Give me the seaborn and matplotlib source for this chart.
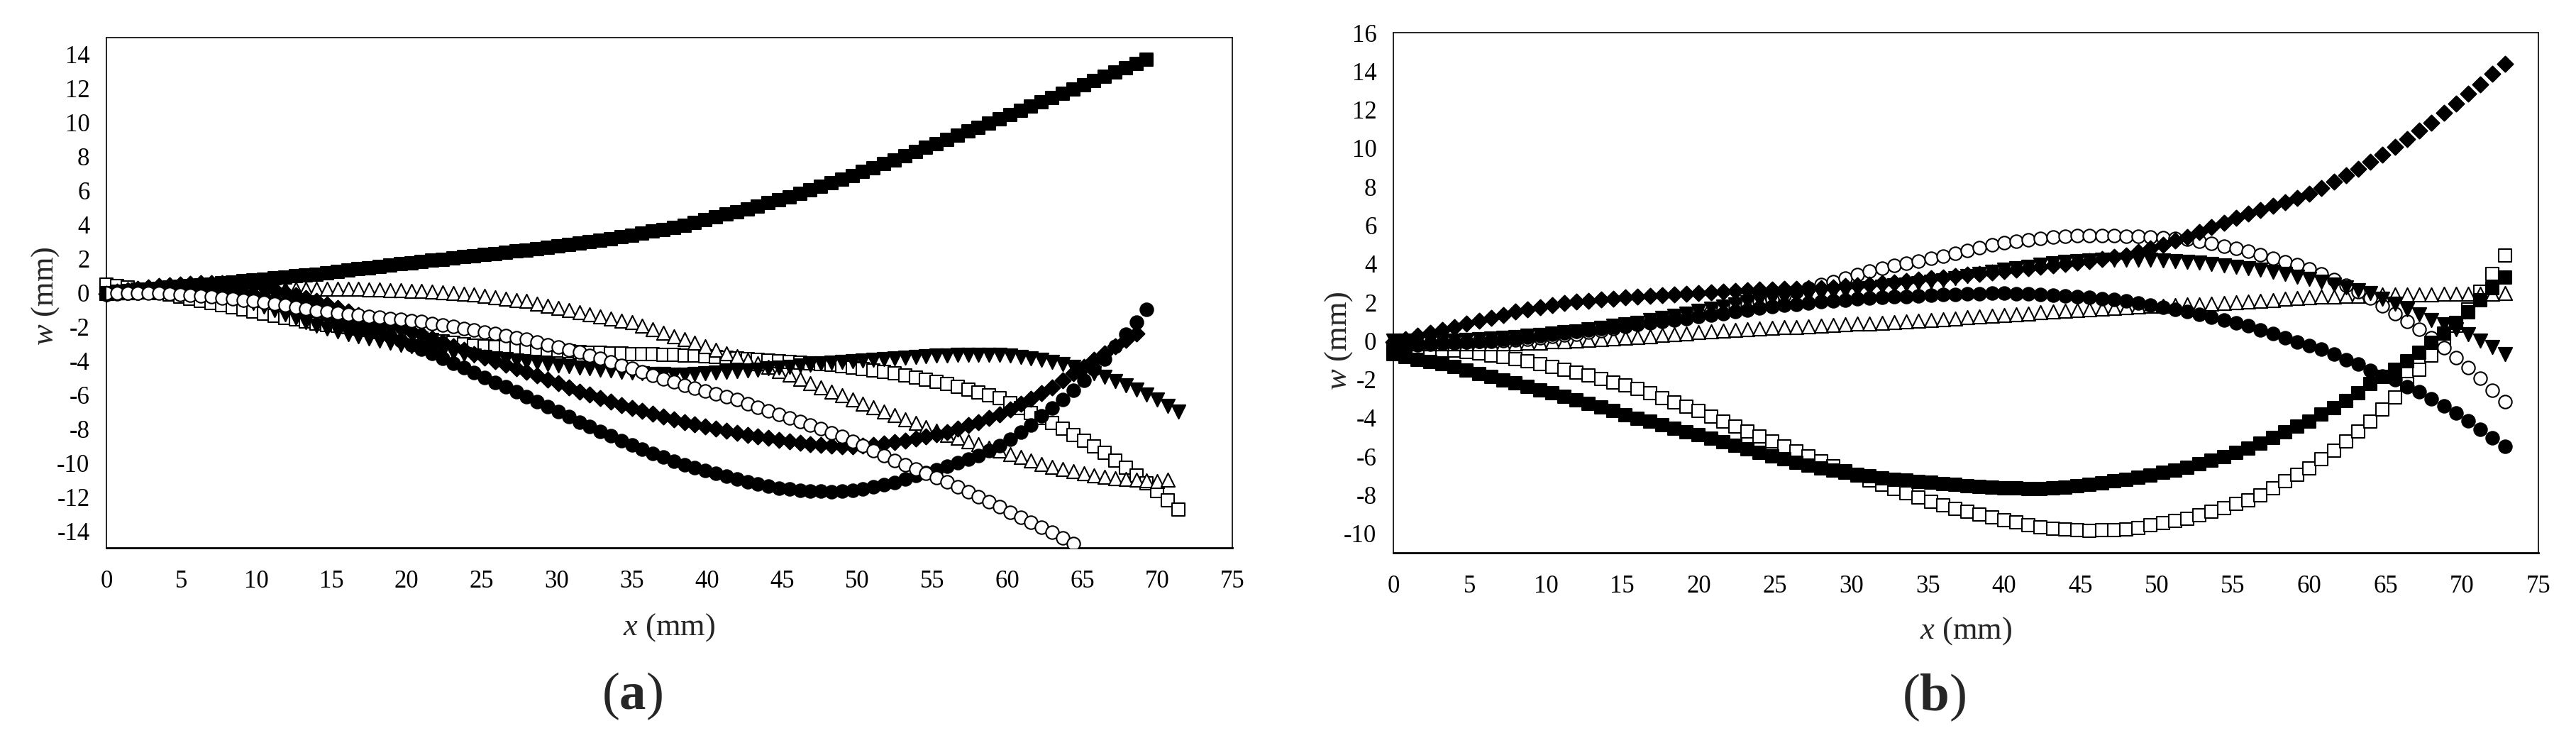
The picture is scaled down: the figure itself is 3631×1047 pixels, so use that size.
import numpy as np
import matplotlib
matplotlib.use("Agg")
import matplotlib.pyplot as plt
import seaborn as sns

# deflection w (mm) sampled along x, panel (a) step 0.7 mm, panel (b) step 0.8 mm
DX_A = 0.7
DX_B = 0.8

# ---------------- panel (a) ----------------
a_sq_fill = [0.0, 0.05, 0.1, 0.15, 0.2, 0.25, 0.3, 0.35, 0.4, 0.45, 0.5,
             0.56, 0.61, 0.67, 0.72, 0.78, 0.84, 0.9, 0.96, 1.02, 1.08,
             1.15, 1.23, 1.3, 1.38, 1.45, 1.53, 1.6, 1.68, 1.75, 1.83,
             1.89, 1.96, 2.02, 2.09, 2.15, 2.22, 2.29, 2.36, 2.43, 2.5,
             2.58, 2.66, 2.74, 2.82, 2.9, 2.99, 3.08, 3.17, 3.26, 3.35,
             3.47, 3.59, 3.71, 3.83, 3.95, 4.11, 4.27, 4.43, 4.59, 4.75,
             4.92, 5.09, 5.26, 5.43, 5.6, 5.81, 6.02, 6.23, 6.44, 6.65,
             6.88, 7.11, 7.34, 7.57, 7.8, 8.04, 8.28, 8.52, 8.76, 9.0,
             9.24, 9.48, 9.72, 9.96, 10.2, 10.45, 10.7, 10.95, 11.2, 11.45,
             11.7, 11.95, 12.2, 12.45, 12.7, 12.95, 13.2, 13.45, 13.7]

a_circ_fill = [-0.1, -0.07, -0.04, -0.01, 0.02, 0.05, 0.07, 0.09, 0.1, 0.1,
               0.1, 0.05, -0.03, -0.12, -0.2, -0.3, -0.46, -0.62, -0.78, -0.94,
               -1.1, -1.29, -1.48, -1.67, -1.86, -2.05, -2.3, -2.55, -2.8, -3.05,
               -3.3, -3.58, -3.86, -4.14, -4.42, -4.7, -4.98, -5.26, -5.54, -5.82,
               -6.1, -6.4, -6.7, -7.0, -7.3, -7.6, -7.88, -8.15, -8.42, -8.7,
               -8.95, -9.2, -9.45, -9.68, -9.9, -10.1, -10.28, -10.45, -10.63, -10.8,
               -10.95, -11.1, -11.25, -11.38, -11.48, -11.55, -11.6, -11.65, -11.68, -11.7,
               -11.68, -11.62, -11.55, -11.42, -11.3, -11.15, -10.95, -10.75, -10.58, -10.42,
               -10.2, -10.0, -9.78, -9.56, -9.28, -8.98, -8.6, -8.2, -7.8, -7.25,
               -6.8, -6.3, -5.75, -5.15, -4.5, -3.9, -3.16, -2.45, -1.75, -1.0]

a_diam_fill = [-0.05, 0.05, 0.15, 0.25, 0.33, 0.4, 0.45, 0.5, 0.53, 0.55,
               0.55, 0.55, 0.52, 0.48, 0.42, 0.35, 0.2, 0.02, -0.15, -0.32,
               -0.5, -0.7, -0.9, -1.1, -1.3, -1.5, -1.69, -1.88, -2.07, -2.26,
               -2.45, -2.68, -2.91, -3.14, -3.37, -3.6, -3.81, -4.02, -4.23, -4.44,
               -4.65, -4.88, -5.11, -5.34, -5.57, -5.8, -6.0, -6.2, -6.4, -6.6,
               -6.8, -6.96, -7.12, -7.28, -7.44, -7.6, -7.73, -7.86, -7.99, -8.12,
               -8.25, -8.35, -8.45, -8.55, -8.65, -8.75, -8.82, -8.89, -8.95, -9.0,
               -9.02, -9.02, -9.0, -8.95, -8.88, -8.8, -8.7, -8.59, -8.47, -8.34,
               -8.2, -8.0, -7.8, -7.6, -7.38, -7.15, -6.85, -6.54, -6.22, -5.9,
               -5.55, -5.15, -4.75, -4.35, -3.95, -3.55, -3.15, -2.78, -2.4]

a_tri_down = [-0.05, 0.0, 0.05, 0.1, 0.13, 0.15, 0.15, 0.14, 0.12, 0.11,
              0.1, -0.05, -0.25, -0.45, -0.62, -0.8, -1.03, -1.26, -1.49, -1.72,
              -1.95, -2.12, -2.28, -2.43, -2.57, -2.7, -2.82, -2.94, -3.05, -3.15,
              -3.25, -3.35, -3.45, -3.54, -3.62, -3.7, -3.77, -3.84, -3.91, -3.98,
              -4.05, -4.12, -4.19, -4.26, -4.33, -4.4, -4.46, -4.52, -4.58, -4.64,
              -4.7, -4.73, -4.76, -4.78, -4.8, -4.8, -4.78, -4.74, -4.7, -4.66,
              -4.62, -4.57, -4.51, -4.45, -4.4, -4.35, -4.29, -4.23, -4.17, -4.11,
              -4.05, -4.01, -3.97, -3.93, -3.89, -3.85, -3.81, -3.77, -3.74, -3.71,
              -3.68, -3.66, -3.65, -3.64, -3.64, -3.65, -3.7, -3.77, -3.85, -3.95,
              -4.05, -4.2, -4.38, -4.56, -4.75, -4.95, -5.18, -5.43, -5.7, -5.99,
              -6.3, -6.65, -7.0]

a_tri_open = [0.0, 0.02, 0.04, 0.06, 0.08, 0.1, 0.11, 0.12, 0.13, 0.14,
              0.15, 0.16, 0.17, 0.18, 0.19, 0.2, 0.21, 0.22, 0.22, 0.23,
              0.23, 0.23, 0.22, 0.22, 0.21, 0.2, 0.18, 0.16, 0.14, 0.12,
              0.1, 0.06, 0.02, -0.02, -0.06, -0.1, -0.18, -0.26, -0.34, -0.42,
              -0.5, -0.63, -0.76, -0.89, -1.02, -1.15, -1.27, -1.39, -1.51, -1.63,
              -1.75, -1.95, -2.15, -2.35, -2.55, -2.75, -2.95, -3.15, -3.35, -3.55,
              -3.75, -3.96, -4.17, -4.38, -4.59, -4.8, -5.05, -5.3, -5.55, -5.8,
              -6.05, -6.28, -6.51, -6.74, -6.97, -7.2, -7.43, -7.66, -7.89, -8.12,
              -8.35, -8.54, -8.73, -8.92, -9.11, -9.3, -9.49, -9.68, -9.87, -10.06,
              -10.25, -10.38, -10.5, -10.62, -10.73, -10.83, -10.9, -10.96, -11.01, -11.04,
              -11.06, -11.0]

a_sq_open = [0.5, 0.4, 0.3, 0.2, 0.1, 0.0, -0.12, -0.24, -0.36, -0.48,
             -0.6, -0.73, -0.86, -0.99, -1.12, -1.25, -1.36, -1.47, -1.58, -1.69,
             -1.8, -1.88, -1.96, -2.04, -2.12, -2.2, -2.3, -2.39, -2.49, -2.58,
             -2.68, -2.76, -2.85, -2.93, -3.02, -3.1, -3.14, -3.18, -3.21, -3.25,
             -3.28, -3.32, -3.37, -3.41, -3.46, -3.5, -3.52, -3.54, -3.56, -3.58,
             -3.6, -3.62, -3.63, -3.65, -3.66, -3.68, -3.71, -3.75, -3.78, -3.82,
             -3.85, -3.89, -3.93, -3.97, -4.01, -4.05, -4.1, -4.15, -4.2, -4.25,
             -4.3, -4.39, -4.48, -4.57, -4.66, -4.75, -4.88, -5.0, -5.13, -5.25,
             -5.38, -5.54, -5.71, -5.87, -6.04, -6.2, -6.48, -6.77, -7.06, -7.35,
             -7.65, -8.0, -8.35, -8.7, -9.05, -9.4, -9.85, -10.3, -10.75, -11.2,
             -11.65, -12.2, -12.75]

a_circ_open = [0.0, 0.0, 0.0, 0.0, 0.0, 0.0, -0.05, -0.1, -0.15, -0.2,
               -0.25, -0.31, -0.37, -0.43, -0.49, -0.55, -0.65, -0.75, -0.85, -0.95,
               -1.05, -1.12, -1.19, -1.26, -1.33, -1.4, -1.46, -1.52, -1.58, -1.64,
               -1.7, -1.8, -1.9, -2.0, -2.1, -2.2, -2.31, -2.42, -2.53, -2.64,
               -2.75, -2.9, -3.05, -3.2, -3.35, -3.5, -3.69, -3.88, -4.07, -4.26,
               -4.45, -4.65, -4.85, -5.05, -5.25, -5.45, -5.62, -5.79, -5.96, -6.13,
               -6.3, -6.51, -6.72, -6.93, -7.14, -7.35, -7.57, -7.79, -8.01, -8.23,
               -8.45, -8.73, -9.01, -9.29, -9.57, -9.85, -10.1, -10.36, -10.61, -10.87,
               -11.12, -11.42, -11.71, -12.01, -12.3, -12.6, -12.9, -13.2, -13.5, -13.8,
               -14.1, -14.43, -14.75]

# ---------------- panel (b) ----------------
b_diam_fill = [-0.05, 0.1, 0.26, 0.41, 0.57, 0.72, 0.88, 1.04, 1.2, 1.35,
               1.51, 1.63, 1.74, 1.85, 1.95, 2.03, 2.09, 2.15, 2.2, 2.25,
               2.3, 2.34, 2.37, 2.41, 2.44, 2.47, 2.51, 2.55, 2.58, 2.62,
               2.65, 2.67, 2.69, 2.71, 2.73, 2.75, 2.79, 2.84, 2.89, 2.93,
               2.98, 3.04, 3.11, 3.17, 3.24, 3.3, 3.36, 3.43, 3.49, 3.56,
               3.62, 3.69, 3.76, 3.84, 3.91, 3.98, 4.06, 4.15, 4.25, 4.35,
               4.45, 4.62, 4.8, 4.99, 5.19, 5.4, 5.64, 5.89, 6.14, 6.38,
               6.6, 6.8, 7.0, 7.2, 7.42, 7.63, 7.93, 8.25, 8.58, 8.92,
               9.28, 9.67, 10.07, 10.47, 10.9, 11.33, 11.82, 12.31, 12.82, 13.32,
               13.85, 14.38]

b_circ_open = [-0.15, -0.14, -0.13, -0.12, -0.11, -0.1, -0.07, -0.04, -0.01, 0.02,
               0.05, 0.1, 0.16, 0.23, 0.29, 0.35, 0.44, 0.54, 0.65, 0.75,
               0.85, 0.96, 1.08, 1.19, 1.31, 1.42, 1.54, 1.66, 1.79, 1.91,
               2.03, 2.2, 2.38, 2.56, 2.73, 2.91, 3.08, 3.26, 3.43, 3.61,
               3.78, 3.9, 4.03, 4.15, 4.28, 4.4, 4.55, 4.7, 4.85, 4.98,
               5.09, 5.18, 5.26, 5.33, 5.39, 5.44, 5.45, 5.45, 5.45, 5.45,
               5.44, 5.42, 5.39, 5.35, 5.31, 5.27, 5.17, 5.05, 4.92, 4.79,
               4.65, 4.48, 4.3, 4.12, 3.94, 3.75, 3.48, 3.18, 2.87, 2.55,
               2.21, 1.82, 1.42, 1.01, 0.59, 0.15, -0.35, -0.86, -1.39, -1.93,
               -2.55, -3.15]

b_tri_down = [0.0, 0.0, 0.0, 0.0, 0.0, 0.0, 0.04, 0.08, 0.12, 0.16,
              0.2, 0.26, 0.32, 0.38, 0.44, 0.5, 0.59, 0.68, 0.77, 0.86,
              0.95, 1.07, 1.19, 1.31, 1.43, 1.55, 1.66, 1.77, 1.88, 1.99,
              2.1, 2.17, 2.24, 2.31, 2.38, 2.45, 2.52, 2.59, 2.66, 2.73,
              2.8, 2.87, 2.94, 3.01, 3.08, 3.15, 3.26, 3.37, 3.47, 3.58,
              3.68, 3.77, 3.86, 3.94, 4.02, 4.1, 4.14, 4.17, 4.2, 4.21,
              4.22, 4.22, 4.2, 4.18, 4.15, 4.12, 4.06, 4.0, 3.93, 3.86,
              3.78, 3.68, 3.57, 3.46, 3.34, 3.22, 3.08, 2.94, 2.79, 2.63,
              2.47, 2.2, 1.92, 1.65, 1.38, 1.1, 0.85, 0.6, 0.35, 0.03,
              -0.32, -0.67]

b_circ_fill = [-0.3, -0.26, -0.22, -0.18, -0.14, -0.1, -0.06, -0.01, 0.03, 0.08,
               0.12, 0.2, 0.27, 0.35, 0.42, 0.5, 0.57, 0.64, 0.71, 0.78,
               0.85, 0.93, 1.01, 1.09, 1.17, 1.25, 1.34, 1.43, 1.52, 1.61,
               1.7, 1.77, 1.84, 1.91, 1.98, 2.05, 2.09, 2.13, 2.17, 2.21,
               2.25, 2.28, 2.31, 2.34, 2.37, 2.4, 2.42, 2.44, 2.46, 2.47,
               2.47, 2.46, 2.43, 2.4, 2.37, 2.35, 2.3, 2.25, 2.2, 2.15,
               2.09, 1.98, 1.86, 1.74, 1.62, 1.51, 1.39, 1.24, 1.1, 0.95,
               0.79, 0.58, 0.37, 0.15, -0.05, -0.26, -0.43, -0.67, -0.98, -1.22,
               -1.55, -1.82, -2.0, -2.37, -2.65, -3.0, -3.38, -3.73, -4.14, -4.6,
               -5.04, -5.48]

b_tri_open = [-0.15, -0.15, -0.15, -0.15, -0.15, -0.15, -0.15, -0.15, -0.15, -0.15,
              -0.15, -0.11, -0.08, -0.04, -0.01, 0.03, 0.06, 0.09, 0.12, 0.15,
              0.18, 0.23, 0.29, 0.34, 0.4, 0.45, 0.49, 0.53, 0.57, 0.61,
              0.65, 0.68, 0.71, 0.73, 0.76, 0.79, 0.82, 0.85, 0.88, 0.91,
              0.94, 0.98, 1.02, 1.05, 1.09, 1.13, 1.17, 1.22, 1.26, 1.31,
              1.35, 1.39, 1.43, 1.47, 1.51, 1.55, 1.59, 1.63, 1.68, 1.72,
              1.76, 1.78, 1.81, 1.83, 1.86, 1.88, 1.91, 1.94, 1.98, 2.01,
              2.04, 2.08, 2.12, 2.17, 2.21, 2.25, 2.28, 2.3, 2.33, 2.35,
              2.38, 2.39, 2.4, 2.4, 2.41, 2.42, 2.43, 2.44, 2.44, 2.45,
              2.46, 2.5]

b_sq_fill = [-0.7, -0.83, -0.97, -1.1, -1.22, -1.35, -1.52, -1.7, -1.87, -2.05,
             -2.2, -2.38, -2.55, -2.73, -2.9, -3.07, -3.26, -3.46, -3.65, -3.84,
             -4.03, -4.2, -4.38, -4.55, -4.73, -4.9, -5.08, -5.26, -5.44, -5.62,
             -5.8, -5.98, -6.15, -6.31, -6.46, -6.6, -6.72, -6.84, -6.94, -7.04,
             -7.12, -7.19, -7.26, -7.32, -7.37, -7.42, -7.47, -7.52, -7.56, -7.6,
             -7.64, -7.66, -7.67, -7.67, -7.65, -7.61, -7.55, -7.47, -7.38, -7.29,
             -7.2, -7.09, -6.97, -6.85, -6.72, -6.58, -6.41, -6.22, -6.03, -5.82,
             -5.6, -5.33, -5.04, -4.74, -4.45, -4.17, -3.83, -3.5, -3.12, -2.7,
             -2.25, -1.87, -1.5, -1.05, -0.6, -0.1, 0.4, 0.95, 1.5, 2.1,
             2.73, 3.3]

b_sq_open = [-0.45, -0.45, -0.47, -0.49, -0.5, -0.5, -0.57, -0.66, -0.76, -0.85,
             -0.93, -1.07, -1.21, -1.35, -1.49, -1.63, -1.8, -1.97, -2.15, -2.32,
             -2.5, -2.73, -2.96, -3.19, -3.42, -3.65, -3.91, -4.17, -4.43, -4.69,
             -4.95, -5.21, -5.47, -5.74, -6.0, -6.26, -6.5, -6.75, -6.99, -7.24,
             -7.48, -7.69, -7.91, -8.12, -8.34, -8.55, -8.71, -8.87, -9.02, -9.17,
             -9.32, -9.43, -9.55, -9.66, -9.74, -9.8, -9.83, -9.84, -9.83, -9.81,
             -9.79, -9.7, -9.58, -9.45, -9.33, -9.23, -9.05, -8.86, -8.67, -8.47,
             -8.28, -8.0, -7.66, -7.29, -6.95, -6.61, -6.15, -5.7, -5.2, -4.7,
             -4.17, -3.55, -2.92, -2.24, -1.5, -0.75, 0.0, 0.8, 1.65, 2.56,
             3.48, 4.44]

x_ticks = list(range(0, 80, 5))
a_yticks = list(range(-14, 16, 2))
b_yticks = list(range(-10, 18, 2))

sns.set_style("white")
plt.rcParams["font.family"] = ["Liberation Serif", "DejaVu Serif"]
plt.rcParams["mathtext.fontset"] = "custom"
plt.rcParams["mathtext.rm"] = "Liberation Serif"
plt.rcParams["mathtext.it"] = "Liberation Serif:italic"
plt.rcParams["mathtext.bf"] = "Liberation Serif:bold"
plt.rcParams["axes.unicode_minus"] = False

W, H = 3631, 1047
fig = plt.figure(figsize=(W / 100, H / 100), dpi=100)
fig.patch.set_facecolor("white")

ax_a = fig.add_axes([150 / W, 1 - 772 / H, (1737 - 150) / W, (772 - 53) / H])
ax_b = fig.add_axes([1964 / W, 1 - 779 / H, (3578 - 1964) / W, (779 - 46) / H])

# marker styles: (marker, size, face)
styles = {
    "sq_open": ("s", 160, "white"),
    "tri_open": ("^", 190, "white"),
    "circ_open": ("o", 175, "white"),
    "circ_fill": ("o", 175, "black"),
    "tri_down": ("v", 190, "black"),
    "sq_fill": ("s", 160, "black"),
    "diam_fill": ("D", 125, "black"),
}


def draw(ax, series, dx):
    for key, w in series:
        m, s, face = styles[key]
        x = np.arange(len(w)) * dx
        sns.scatterplot(x=x, y=w, ax=ax, marker=m, s=s, color=face,
                        edgecolor="black", linewidth=1.5, clip_on=False,
                        legend=False, zorder=3)


draw(ax_a, [("sq_open", a_sq_open), ("tri_open", a_tri_open),
            ("circ_fill", a_circ_fill), ("tri_down", a_tri_down),
            ("sq_fill", a_sq_fill), ("diam_fill", a_diam_fill)], DX_A)
# the open-circle curve runs off the bottom of panel (a)
sns.scatterplot(x=np.arange(len(a_circ_open)) * DX_A, y=a_circ_open, ax=ax_a,
                marker="o", s=175, color="white", edgecolor="black",
                linewidth=1.5, legend=False, zorder=3)

draw(ax_b, [("sq_open", b_sq_open), ("tri_open", b_tri_open),
            ("circ_open", b_circ_open), ("circ_fill", b_circ_fill),
            ("tri_down", b_tri_down), ("sq_fill", b_sq_fill),
            ("diam_fill", b_diam_fill)], DX_B)

for ax, ylim, yt in [(ax_a, (-15, 15), a_yticks), (ax_b, (-11, 16), b_yticks)]:
    ax.set_xlim(0, 75)
    ax.set_ylim(*ylim)
    ax.set_xticks(x_ticks)
    ax.set_yticks(yt)
    ax.tick_params(axis="both", direction="out", length=8, width=1.2,
                   labelsize=25, colors="black")
    ax.tick_params(axis="x", pad=14)
    ax.tick_params(axis="y", pad=9)
    for side in ["top", "right", "left"]:
        ax.spines[side].set_visible(True)
        ax.spines[side].set_linewidth(1.2)
        ax.spines[side].set_color("black")
    ax.spines["bottom"].set_linewidth(2.0)
    ax.spines["bottom"].set_color("black")
    ax.set_xlabel(r"$x$ (mm)", fontsize=32)
    ax.set_ylabel(r"$w$ (mm)", fontsize=32)
    ax.xaxis.label.set_va("center")
    ax.yaxis.label.set_va("center")
    ax.grid(False)

ax_a.xaxis.set_label_coords(0.5, -0.156)
ax_a.yaxis.set_label_coords(-0.0543, 0.494)
ax_b.xaxis.set_label_coords(0.5, -0.150)
ax_b.yaxis.set_label_coords(-0.048, 0.408)

fig.text(891 / W, 1 - 981 / H, r"($\mathbf{a}$)", fontsize=54,
         ha="center", va="center")
fig.text(2726 / W, 1 - 983 / H, r"($\mathbf{b}$)", fontsize=54,
         ha="center", va="center")

fig.savefig("out.png", dpi=100, facecolor="white")
